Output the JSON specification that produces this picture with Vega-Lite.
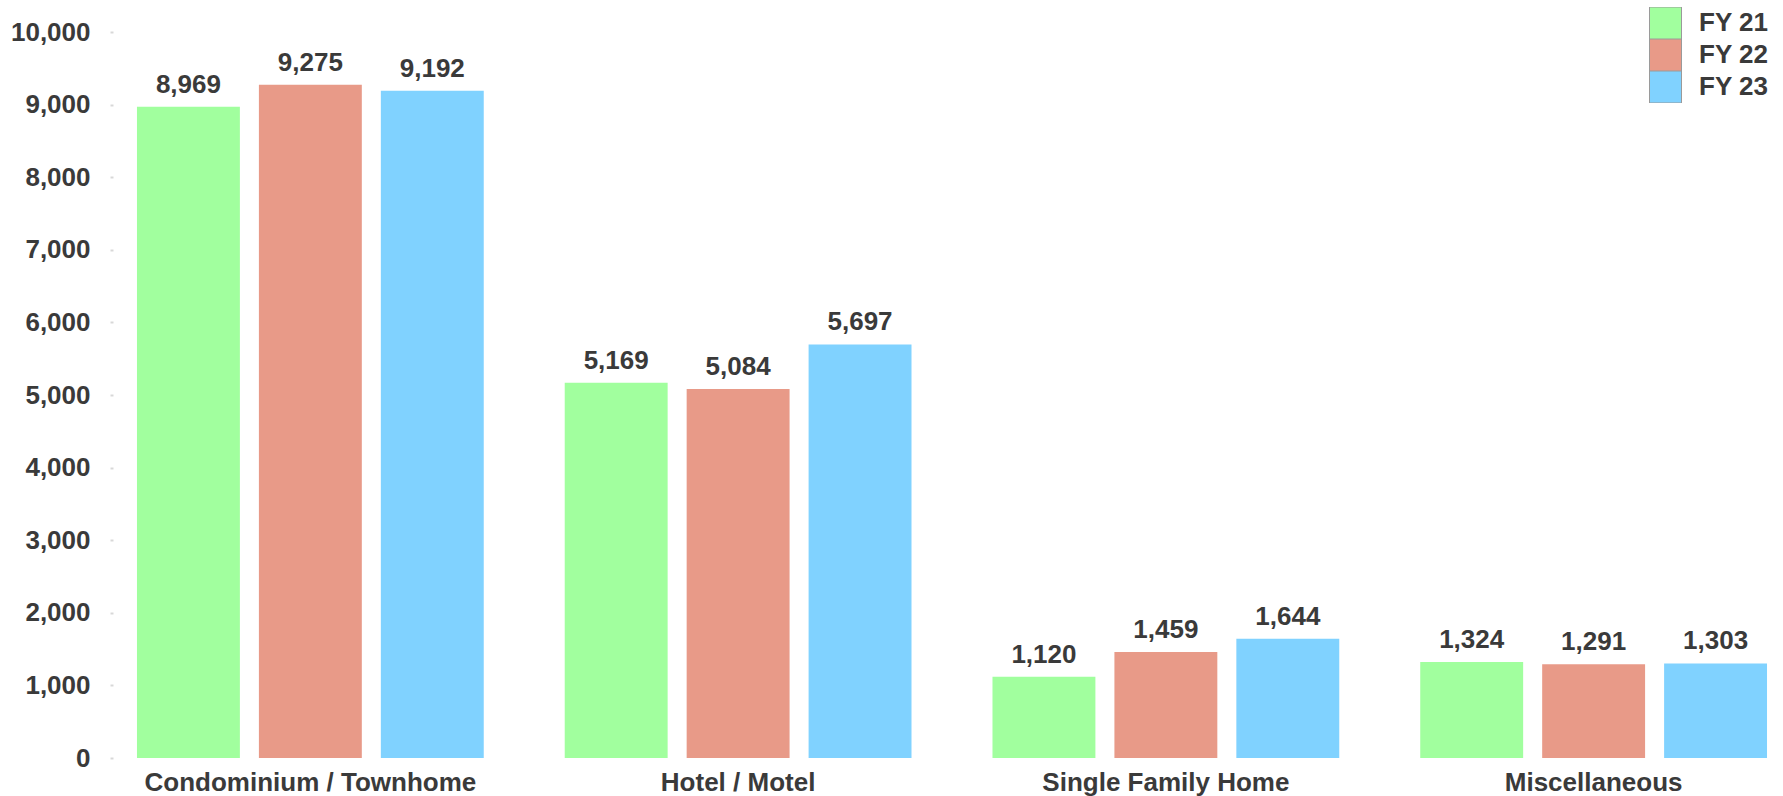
{
  "$schema": "https://vega.github.io/schema/vega-lite/v6.json",
  "width": 1670,
  "height": 726,
  "autosize": {"type": "none"},
  "padding": {"left": 113, "top": 32, "right": 0, "bottom": 38},
  "background": "white",
  "config": {
    "font": "Liberation Sans",
    "view": {"stroke": null}
  },
  "data": {
    "values": [
      {"category": "Condominium / Townhome", "year": "FY 21", "value": 8969},
      {"category": "Condominium / Townhome", "year": "FY 22", "value": 9275},
      {"category": "Condominium / Townhome", "year": "FY 23", "value": 9192},
      {"category": "Hotel / Motel", "year": "FY 21", "value": 5169},
      {"category": "Hotel / Motel", "year": "FY 22", "value": 5084},
      {"category": "Hotel / Motel", "year": "FY 23", "value": 5697},
      {"category": "Single Family Home", "year": "FY 21", "value": 1120},
      {"category": "Single Family Home", "year": "FY 22", "value": 1459},
      {"category": "Single Family Home", "year": "FY 23", "value": 1644},
      {"category": "Miscellaneous", "year": "FY 21", "value": 1324},
      {"category": "Miscellaneous", "year": "FY 22", "value": 1291},
      {"category": "Miscellaneous", "year": "FY 23", "value": 1303}
    ]
  },
  "encoding": {
    "x": {
      "field": "category",
      "type": "nominal",
      "sort": null,
      "scale": {"paddingInner": 0.1893, "paddingOuter": 0.0467, "align": 0.6},
      "axis": {
        "title": null,
        "domain": false,
        "ticks": false,
        "labelAngle": 0,
        "labelLimit": 0,
        "labelFont": "Liberation Sans",
        "labelFontSize": 26,
        "labelFontWeight": "bold",
        "labelColor": "#3a3a3a",
        "labelPadding": 11
      }
    },
    "xOffset": {
      "field": "year",
      "type": "nominal",
      "scale": {"paddingInner": 0.156, "paddingOuter": 0}
    },
    "y": {
      "field": "value",
      "type": "quantitative",
      "scale": {"domain": [0, 10000], "nice": false},
      "axis": {
        "title": null,
        "domain": false,
        "grid": false,
        "tickCount": 10,
        "format": ",d",
        "tickSize": 3,
        "tickWidth": 2,
        "tickColor": "#d8d8d8",
        "labelPadding": 20,
        "labelFont": "Liberation Sans",
        "labelFontSize": 26,
        "labelFontWeight": "bold",
        "labelColor": "#3a3a3a"
      }
    }
  },
  "layer": [
    {
      "mark": {"type": "bar"},
      "encoding": {
        "color": {
          "field": "year",
          "type": "nominal",
          "scale": {"domain": ["FY 21", "FY 22", "FY 23"], "range": ["#A1FF9E", "#E89A88", "#80D2FF"]},
          "legend": {
            "title": null,
            "orient": "none",
            "legendX": 1536,
            "legendY": -25,
            "padding": 0,
            "symbolType": "square",
            "symbolSize": 1024,
            "symbolStrokeColor": "#9a9a9a",
            "symbolStrokeWidth": 1,
            "symbolOpacity": 1,
            "rowPadding": 0,
            "clipHeight": 32,
            "labelOffset": 17,
            "labelFont": "Liberation Sans",
            "labelFontSize": 26,
            "labelFontWeight": "bold",
            "labelColor": "#3a3a3a"
          }
        }
      }
    },
    {
      "mark": {
        "type": "text",
        "baseline": "alphabetic",
        "dy": -14,
        "font": "Liberation Sans",
        "fontSize": 26,
        "fontWeight": "bold",
        "color": "#3a3a3a"
      },
      "encoding": {
        "text": {"field": "value", "type": "quantitative", "format": ","}
      }
    }
  ]
}
